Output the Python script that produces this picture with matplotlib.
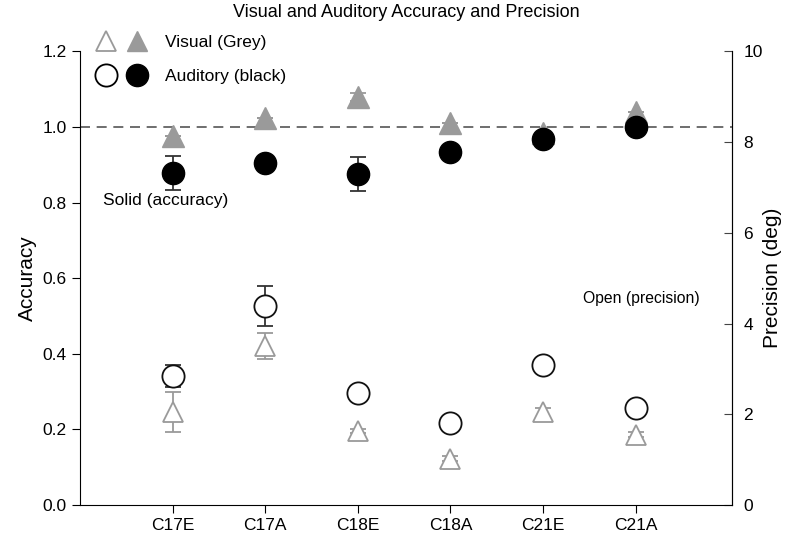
import numpy as np
import matplotlib
matplotlib.use("Agg")
import matplotlib.pyplot as plt
from matplotlib.lines import Line2D
from matplotlib.legend_handler import HandlerTuple

plt.rcParams['font.family'] = ['Liberation Sans', 'DejaVu Sans']

# conditions
labels = ['C17E', 'C17A', 'C18E', 'C18A', 'C21E', 'C21A']

# accuracy (left axis, solid markers)
vis_acc = [0.975, 1.025, 1.08, 1.01, 0.985, 1.04]
vis_acc_err = [0, 0, 0.01, 0, 0, 0]
aud_acc = [0.879, 0.906, 0.877, 0.935, 0.969, 1.0]
aud_acc_err = [0.045, 0, 0.045, 0, 0, 0]

# precision in deg (right axis, open markers)
vis_prec = [2.05, 3.5, 1.63, 1.02, 2.05, 1.55]
vis_prec_err = [0.45, 0.29, 0.05, 0.05, 0.1, 0.05]
aud_prec = [2.85, 4.38, 2.47, 1.8, 3.08, 2.13]
aud_prec_err = [0.24, 0.44, 0, 0, 0, 0]

grey = '#9a9a9a'
x = np.arange(1, len(labels) + 1)

fig = plt.figure(figsize=(7.89, 5.36), dpi=100)
ax = fig.add_axes([0.1014, 0.0578, 0.8264, 0.8462])
ax2 = ax.twinx()

ax.axhline(1.0, color='#555555', lw=1.2, ls=(0, (6, 4)), zorder=1)

# right axis: open markers (precision)
ax2.errorbar(x, vis_prec, yerr=vis_prec_err, fmt='^', ms=15, mfc='white', mec=grey,
             mew=1.3, ecolor=grey, elinewidth=1.3, capsize=6, capthick=1.3, zorder=3)
ax2.errorbar(x, aud_prec, yerr=aud_prec_err, fmt='o', ms=16, mfc='white', mec='#111111',
             mew=1.3, ecolor='#333333', elinewidth=1.3, capsize=6, capthick=1.3, zorder=4)

# left axis: solid markers (accuracy)
ax.errorbar(x, vis_acc, yerr=vis_acc_err, fmt='^', ms=16, mfc=grey, mec=grey,
            ecolor=grey, elinewidth=1.3, capsize=6, capthick=1.3, zorder=3)
ax.errorbar(x, aud_acc, yerr=aud_acc_err, fmt='o', ms=16, mfc='black', mec='black',
            ecolor='#333333', elinewidth=1.3, capsize=6, capthick=1.3, zorder=4)

ax.set_zorder(ax2.get_zorder() + 1)
ax.patch.set_visible(False)

ax.set_xlim(0, 7.04)
ax.set_ylim(0, 1.2)
ax2.set_ylim(0, 10)
ax.set_xticks(x)
ax.set_xticklabels(labels, fontsize=12.5)
ax.set_yticks(np.arange(0, 1.21, 0.2))
ax.set_yticklabels(['%.1f' % v for v in np.arange(0, 1.21, 0.2)], fontsize=12.5)
ax2.set_yticks([0, 2, 4, 6, 8, 10])
ax2.tick_params(axis='y', direction='in', length=6, labelsize=12.5, color='#444444', pad=8)
ax.tick_params(axis='both', direction='out', length=6)
ax.tick_params(axis='x', pad=3)

for a in (ax, ax2):
    a.spines['top'].set_visible(False)
ax2.spines['right'].set_color('#444444')
ax2.spines['left'].set_visible(False)
ax2.spines['bottom'].set_visible(False)

ax.set_ylabel('Accuracy', fontsize=15, labelpad=4)
ax2.set_ylabel('Precision (deg)', fontsize=15, labelpad=0)
fig.text(0.5145, 0.977, 'Visual and Auditory Accuracy and Precision', fontsize=13,
         ha='center', va='center')

ax.text(0.25, 0.805, 'Solid (accuracy)', fontsize=12.5, va='center')
ax2.text(6.69, 4.55, 'Open (precision)', fontsize=11.3, va='center', ha='right')

# legend: open + solid pairs
h_vis = (Line2D([], [], ls='none', marker='^', ms=15, mfc='white', mec=grey, mew=1.3),
         Line2D([], [], ls='none', marker='^', ms=15, mfc=grey, mec=grey))
h_aud = (Line2D([], [], ls='none', marker='o', ms=16, mfc='white', mec='black', mew=1.3),
         Line2D([], [], ls='none', marker='o', ms=16, mfc='black', mec='black'))
ax.legend([h_vis, h_aud], ['Visual (Grey)', 'Auditory (black)'],
          handler_map={tuple: HandlerTuple(ndivide=None, pad=0.5)},
          handlelength=3.0, fontsize=12.5, frameon=False, loc='upper left',
          bbox_to_anchor=(0.0, 1.07), labelspacing=1.05, handletextpad=1.0)

fig.savefig('out.png', dpi=100)
